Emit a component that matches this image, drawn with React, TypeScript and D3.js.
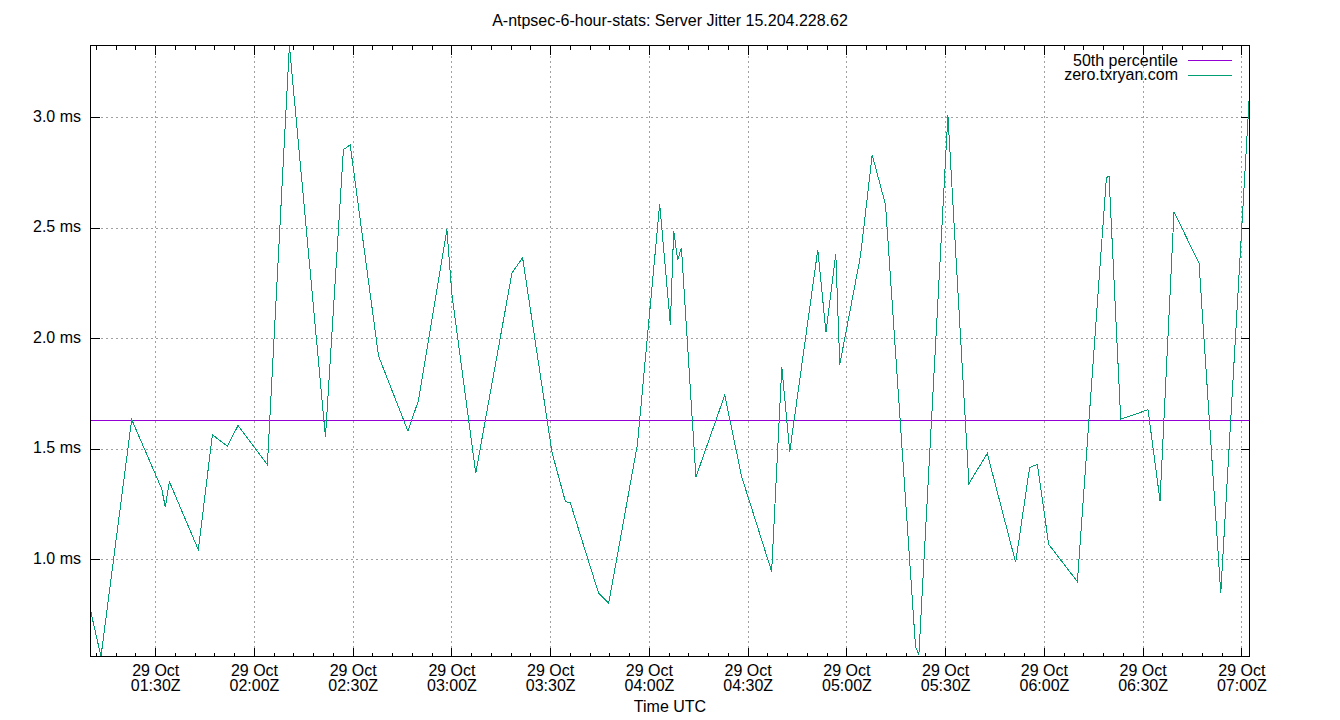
import React from "react";
import * as d3 from "d3";

const chartTitle = "A-ntpsec-6-hour-stats: Server Jitter 15.204.228.62";
const xAxisTitle = "Time UTC";
const seriesName = "zero.txryan.com";
const medianName = "50th percentile";
const dayString = "2025-10-29";

const sampleTimes = [
  "01:10:11", "01:13:22", "01:22:42", "01:31:49", "01:32:55", "01:34:08", "01:42:57",
  "01:47:13", "01:51:46", "01:55:01", "02:03:56", "02:10:37", "02:21:34", "02:27:02",
  "02:29:05", "02:37:41", "02:46:37", "02:49:50", "02:58:28", "03:00:00", "03:07:14",
  "03:18:14", "03:21:28", "03:30:24", "03:34:27", "03:35:58", "03:44:34", "03:47:37",
  "03:56:20", "04:03:07", "04:06:22", "04:07:22", "04:08:35", "04:09:43", "04:14:07",
  "04:22:53", "04:28:00", "04:37:08", "04:40:13", "04:42:38", "04:51:09", "04:53:38",
  "04:56:37", "04:57:50", "05:04:08", "05:07:41", "05:11:44", "05:20:51", "05:21:52",
  "05:30:41", "05:37:04", "05:42:39", "05:51:16", "05:55:31", "05:57:52", "06:01:18",
  "06:10:01", "06:18:50", "06:19:38", "06:23:11", "06:31:29", "06:35:08", "06:39:23",
  "06:46:59", "06:53:35", "07:02:19",
];

const jitterMs = [
  0.771, 0.562, 1.635, 1.321, 1.238, 1.354, 1.045,
  1.566, 1.514, 1.608, 1.430, 3.328, 1.556, 2.857,
  2.878, 1.923, 1.583, 1.721, 2.496, 2.200, 1.392,
  2.298, 2.367, 1.486, 1.264, 1.257, 0.848, 0.803,
  1.520, 2.610, 2.064, 2.490, 2.357, 2.412, 1.374,
  1.745, 1.377, 0.947, 1.872, 1.489, 2.403, 2.030,
  2.385, 1.884, 2.376, 2.833, 2.607, 0.605, 0.571,
  3.012, 1.345, 1.481, 0.988, 1.418, 1.432, 1.070,
  0.901, 2.729, 2.737, 1.636, 1.679, 1.267, 2.575,
  2.342, 0.849, 3.113,
];

const medianJitterMs = 1.632;
const yTickValues = [1.0, 1.5, 2.0, 2.5, 3.0];

const W = 1340;
const H = 720;
const M = { left: 90.5, right: 1249.5, top: 45.5, bottom: 656.5 };
const FONT = "'Liberation Sans', Arial, sans-serif";
const GREEN = "#009e73";
const PURPLE = "#9400d3";
const GRID = "#a0a0a0";

export default function App() {
  const parse = d3.utcParse("%Y-%m-%d %H:%M:%S");
  const data = sampleTimes.map((t, i) => ({ t: parse(`${dayString} ${t}`) as Date, v: jitterMs[i] }));

  const x = d3
    .scaleUtc()
    .domain(d3.extent(data, (d) => d.t) as [Date, Date])
    .range([M.left, M.right]);
  const y = d3
    .scaleLinear()
    .domain(d3.extent(data, (d) => d.v) as [number, number])
    .range([M.bottom, M.top]);

  const majorTicks = x.ticks(d3.utcMinute.every(30) as d3.TimeInterval);
  const minorTicks = x
    .ticks(d3.utcMinute.every(6) as d3.TimeInterval)
    .filter((t) => t.getUTCMinutes() % 30 !== 0);
  const fmtDay = d3.utcFormat("%d %b");
  const fmtTime = d3.utcFormat("%H:%MZ");

  const line = d3
    .line<{ t: Date; v: number }>()
    .x((d) => x(d.t))
    .y((d) => y(d.v));

  const px = (v: number) => Math.round(v - 0.5) + 0.5;

  return (
    <svg
      width={W}
      height={H}
      viewBox={`0 0 ${W} ${H}`}
      style={{ position: "absolute", left: 0, top: 0, background: "#fff" }}
      fontFamily={FONT}
    >
      <rect x={0} y={0} width={W} height={H} fill="#fff" />
      {/* grid */}
      <g stroke={GRID} strokeWidth={1} strokeDasharray="2,3" shapeRendering="crispEdges">
        {majorTicks.map((t, i) => (
          <line key={`gx${i}`} x1={px(x(t))} x2={px(x(t))} y1={M.top} y2={M.bottom} />
        ))}
        {yTickValues.map((v, i) => (
          <line key={`gy${i}`} x1={M.left} x2={M.right} y1={px(y(v))} y2={px(y(v))} />
        ))}
      </g>
      {/* ticks */}
      <g stroke="#000" strokeWidth={1} shapeRendering="crispEdges">
        {majorTicks.map((t, i) => (
          <g key={`mt${i}`}>
            <line x1={px(x(t))} x2={px(x(t))} y1={M.bottom} y2={M.bottom - 9} />
            <line x1={px(x(t))} x2={px(x(t))} y1={M.top} y2={M.top + 9} />
          </g>
        ))}
        {minorTicks.map((t, i) => (
          <g key={`nt${i}`}>
            <line x1={px(x(t))} x2={px(x(t))} y1={M.bottom} y2={M.bottom - 4} />
            <line x1={px(x(t))} x2={px(x(t))} y1={M.top} y2={M.top + 4} />
          </g>
        ))}
        {yTickValues.map((v, i) => (
          <g key={`yt${i}`}>
            <line x1={M.left} x2={M.left + 9} y1={px(y(v))} y2={px(y(v))} />
            <line x1={M.right} x2={M.right - 9} y1={px(y(v))} y2={px(y(v))} />
          </g>
        ))}
      </g>
      {/* median line */}
      <line
        x1={M.left}
        x2={M.right}
        y1={px(y(medianJitterMs))}
        y2={px(y(medianJitterMs))}
        stroke={PURPLE}
        strokeWidth={1}
        shapeRendering="crispEdges"
      />
      {/* data line */}
      <path d={line(data) || ""} fill="none" stroke={GREEN} strokeWidth={1} shapeRendering="crispEdges" />
      {/* border */}
      <rect
        x={M.left}
        y={M.top}
        width={M.right - M.left}
        height={M.bottom - M.top}
        fill="none"
        stroke="#000"
        strokeWidth={1}
        shapeRendering="crispEdges"
      />
      {/* y labels */}
      <g fontSize={16} fill="#000" textAnchor="end">
        {yTickValues.map((v, i) => (
          <text key={`yl${i}`} x={81} y={y(v) + 4}>
            {`${v.toFixed(1)} ms`}
          </text>
        ))}
      </g>
      {/* x labels */}
      <g fontSize={16} fill="#000" textAnchor="middle">
        {majorTicks.map((t, i) => (
          <text key={`xl${i}`} x={x(t)} y={676}>
            <tspan x={x(t)}>{fmtDay(t)}</tspan>
            <tspan x={x(t)} y={690.5}>
              {fmtTime(t)}
            </tspan>
          </text>
        ))}
      </g>
      <text x={(M.left + M.right) / 2} y={712} fontSize={16} textAnchor="middle" fill="#000">
        {xAxisTitle}
      </text>
      <text x={(M.left + M.right) / 2} y={26} fontSize={16} textAnchor="middle" fill="#000">
        {chartTitle}
      </text>
      {/* legend */}
      <g fontSize={16} fill="#000">
        <text x={1178} y={65.5} textAnchor="end">
          {medianName}
        </text>
        <line x1={1188} x2={1232} y1={60.5} y2={60.5} stroke={PURPLE} strokeWidth={1} shapeRendering="crispEdges" />
        <text x={1178} y={80} textAnchor="end">
          {seriesName}
        </text>
        <line x1={1188} x2={1232} y1={75.5} y2={75.5} stroke={GREEN} strokeWidth={1} shapeRendering="crispEdges" />
      </g>
    </svg>
  );
}
